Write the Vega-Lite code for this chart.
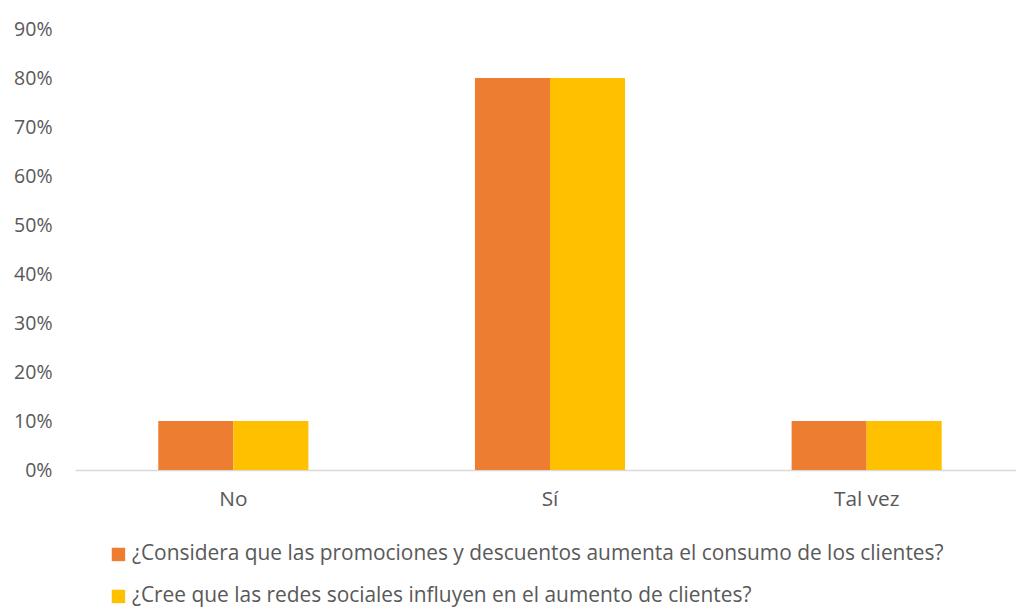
{
  "$schema": "https://vega.github.io/schema/vega-lite/v6.json",
  "width": 941,
  "height": 441,
  "autosize": "none",
  "padding": {"left": 75, "top": 29, "right": 0, "bottom": 140},
  "background": "white",
  "config": {
    "view": {"stroke": null},
    "font": "Open Sans",
    "axis": {"labelFont": "Open Sans", "labelColor": "#595959", "labelFontSize": 20},
    "legend": {"labelFont": "Open Sans", "labelColor": "#595959", "labelFontSize": 20.9}
  },
  "data": {
    "values": [
      {"respuesta": "No", "pregunta": "¿Considera que las promociones y descuentos aumenta el consumo de los clientes?", "valor": 0.1},
      {"respuesta": "No", "pregunta": "¿Cree que las redes sociales influyen en el aumento de clientes?", "valor": 0.1},
      {"respuesta": "Sí", "pregunta": "¿Considera que las promociones y descuentos aumenta el consumo de los clientes?", "valor": 0.8},
      {"respuesta": "Sí", "pregunta": "¿Cree que las redes sociales influyen en el aumento de clientes?", "valor": 0.8},
      {"respuesta": "Tal vez", "pregunta": "¿Considera que las promociones y descuentos aumenta el consumo de los clientes?", "valor": 0.1},
      {"respuesta": "Tal vez", "pregunta": "¿Cree que las redes sociales influyen en el aumento de clientes?", "valor": 0.1}
    ]
  },
  "mark": {"type": "bar"},
  "encoding": {
    "x": {
      "field": "respuesta",
      "type": "nominal",
      "sort": ["No", "Sí", "Tal vez"],
      "scale": {"range": [0, 950], "paddingInner": 0.526, "paddingOuter": 0.263},
      "axis": {"title": null, "labelAngle": 0, "ticks": false, "domainColor": "#d9d9d9", "domainWidth": 1.5, "labelPadding": 19, "labelFontSize": 20.8}
    },
    "xOffset": {
      "field": "pregunta",
      "type": "nominal",
      "scale": {"paddingInner": 0, "paddingOuter": 0}
    },
    "y": {
      "field": "valor",
      "type": "quantitative",
      "scale": {"domain": [0, 0.9]},
      "axis": {"title": null, "format": ".0%", "values": [0, 0.1, 0.2, 0.3, 0.4, 0.5, 0.6, 0.7, 0.8, 0.9], "grid": false, "domain": false, "ticks": false, "labelPadding": 23, "labelFontSize": 19.5}
    },
    "color": {
      "field": "pregunta",
      "type": "nominal",
      "scale": {"range": ["#ED7D31", "#FFC000"]},
      "legend": {
        "title": null,
        "orient": "none",
        "legendX": 33,
        "legendY": 515,
        "direction": "vertical",
        "symbolType": "square",
        "symbolSize": 180,
        "symbolStrokeWidth": 0,
        "symbolOpacity": 1,
        "rowPadding": 20,
        "labelOffset": 3,
        "labelLimit": 1000
      }
    }
  }
}
